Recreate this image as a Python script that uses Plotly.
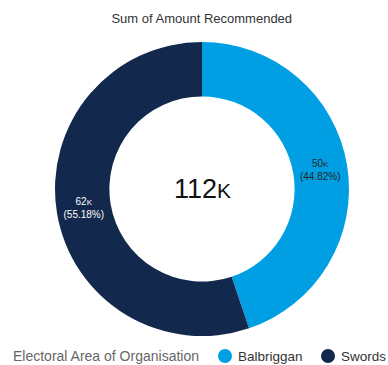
import plotly.graph_objects as go

# Amount recommended, by electoral area of the organisation
areas = ["Balbriggan", "Swords"]
amounts = [50198, 61802]
colors = ["#009fe3", "#12284c"]
label_text = ["50<span style='font-size:8px'>K</span>", "62<span style='font-size:8px'>K</span>"]
label_colors = ["#252423", "#ffffff"]
total_num, total_unit = "112", "K"
legend_title = "Electoral Area of Organisation"

W, H = 388, 365
cx, cy, r = 202, 189, 147
FONT = "Liberation Sans, Arial"

fig = go.Figure()
fig.add_trace(go.Pie(
    labels=areas,
    values=amounts,
    hole=0.63,
    sort=False,
    direction="clockwise",
    rotation=0,
    marker=dict(colors=colors, line=dict(width=0)),
    text=label_text,
    texttemplate="%{text}<br>(%{percent:.2%})",
    textposition="inside",
    insidetextorientation="horizontal",
    textfont=dict(family=FONT, size=10, color=label_colors),
    showlegend=False,
    hoverinfo="label+value+percent",
    domain=dict(x=[(cx - r) / W, (cx + r) / W],
                y=[(H - cy - r) / H, (H - cy + r) / H]),
))


def px(x):
    return x / W


def py(y):
    return (H - y) / H


annotations = [
    dict(text=f"{total_num}<span style='font-size:21px'>{total_unit}</span>",
         x=px(cx), y=py(cy), xref="paper", yref="paper", showarrow=False,
         font=dict(family=FONT, size=27, color="#111111"),
         xanchor="center", yanchor="middle"),
    dict(text=legend_title, x=px(11), y=py(356), xref="paper", yref="paper",
         showarrow=False, xanchor="left", yanchor="middle",
         font=dict(family=FONT, size=14, color="#666666")),
]
shapes = []

# legend row: round swatch followed by the area name
legend_x = [225, 328]
leg_y, dot_r = 356, 7
for name, col, lx in zip(areas, colors, legend_x):
    shapes.append(dict(type="circle", xref="paper", yref="paper",
                       x0=px(lx - dot_r), x1=px(lx + dot_r),
                       y0=py(leg_y + dot_r), y1=py(leg_y - dot_r),
                       fillcolor=col, line=dict(width=0)))
    annotations.append(dict(text=name, x=px(lx + 11), y=py(leg_y),
                            xref="paper", yref="paper", showarrow=False,
                            xanchor="left", yanchor="middle",
                            font=dict(family=FONT, size=13.5, color="#333333")))

fig.update_layout(
    width=W, height=H,
    margin=dict(l=0, r=0, t=0, b=0),
    paper_bgcolor="white", plot_bgcolor="white",
    font=dict(family=FONT, color="#333333"),
    title=dict(text="Sum of Amount Recommended", x=0.52, xanchor="center",
               y=py(18), yanchor="middle",
               font=dict(family=FONT, size=13, color="#333333")),
    annotations=annotations,
    shapes=shapes,
)

fig.write_html("out.html")
